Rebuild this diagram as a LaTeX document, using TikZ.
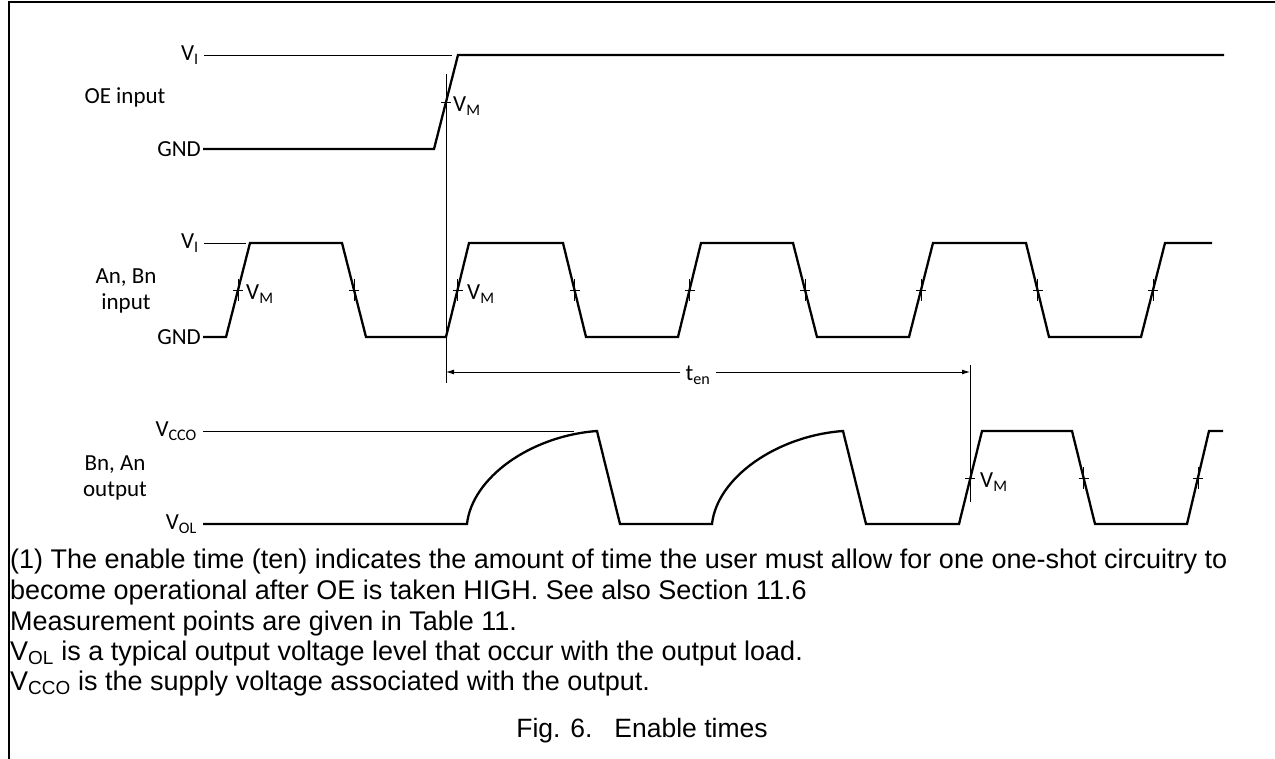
\documentclass[tikz,border=0pt]{standalone}
\usepackage{fontspec}
\setmainfont{Liberation Sans}
\newfontfamily\calfont{Carlito}
\usetikzlibrary{arrows.meta}
\begin{document}
\begin{tikzpicture}[x=1pt,y=-1pt,
  wave/.style={line width=2.3pt, line join=miter},
  thinline/.style={line width=0.9pt},
  frameline/.style={line width=2.6pt},
  lbl/.style={font=\calfont\fontsize{23}{26}\selectfont, inner sep=0pt},
  note/.style={font=\fontsize{27}{30}\selectfont, inner sep=0pt, anchor=base west},
  dimarrow/.style={thinline, -{Latex[length=8pt,width=5pt]}},
  vmtick/.pic={\draw[thinline] (0,-11)--(0,11) (-5,0)--(5,0);}
]
\useasboundingbox (0,0) rectangle (1275,759);
% frame
\draw[frameline] (9,759) -- (9,2) -- (1275,2);

% ---------- OE input ----------
\node[lbl, anchor=east] (vi1) at (199,55) {V\textsubscript{I}};
\node[lbl] (oe) at (125,97) {OE input};
\node[lbl, anchor=east] (gnd1) at (201,149) {GND};
\draw[thinline] (204,55) -- (452,55);
\draw[wave] (203,149) -- (434,149) -- (458,55) -- (1224,55);
\draw[thinline] (446,74) -- (446,383);
\draw[thinline] (441,102) -- (451,102);
\node[lbl, anchor=west] (vm1) at (453,106) {V\textsubscript{M}};

% ---------- An, Bn input ----------
\node[lbl, anchor=east] (vi2) at (199,243) {V\textsubscript{I}};
\node[lbl, align=center] (ab) at (126,291) {An, Bn\\input};
\node[lbl, anchor=east] (gnd2) at (201,337) {GND};
\draw[thinline] (204,243) -- (246,243);
\draw[wave] (203,337) -- (226,337) -- (250,243) -- (342,243) -- (366,337)
  -- (446,337) -- (469,243) -- (563,243) -- (586,337)
  -- (678,337) -- (701,243) -- (793,243) -- (817,337)
  -- (909,337) -- (933,243) -- (1026,243) -- (1049,337)
  -- (1141,337) -- (1165,243) -- (1212,243);
\foreach \x in {238,354,574.5,689.5,805,921,1037.5,1153} \pic at (\x,290) {vmtick};
\draw[thinline] (452.5,290) -- (462.5,290) (457.5,279) -- (457.5,301);
\node[lbl, anchor=west] (vm2) at (246,294) {V\textsubscript{M}};
\node[lbl, anchor=west] (vm3) at (467,294) {V\textsubscript{M}};

% ---------- t_en ----------
\coordinate (tenL) at (446,372);
\coordinate (tenR) at (970,372);
\node[lbl, inner sep=5pt] (ten) at (698,375) {t\textsubscript{en}};
\draw[dimarrow] (ten.west |- tenL) -- (tenL);
\draw[dimarrow] (ten.east |- tenR) -- (tenR);
\draw[thinline] (970,365) -- (970,502);

% ---------- Bn, An output ----------
\node[lbl, anchor=east] (vcco) at (197,431) {V\textsubscript{CCO}};
\node[lbl, align=center] (ba) at (115,478) {Bn, An\\output};
\node[lbl, anchor=east] (vol) at (197,524) {V\textsubscript{OL}};
\draw[thinline] (203,431) -- (574,431);
\draw[wave] (203,524) -- (467,524) .. controls (472,478) and (530,436) .. (597,431)
  -- (620,524) -- (712,524) .. controls (717,478) and (776,436) .. (843,431)
  -- (866,524) -- (959,524) -- (982,431) -- (1072,431) -- (1095,524)
  -- (1187,524) -- (1209,431) -- (1223,431);
\foreach \x in {1083.5,1198} \pic at (\x,478) {vmtick};
\draw[thinline] (965,478) -- (975,478);
\node[lbl, anchor=west] (vm4) at (980,482) {V\textsubscript{M}};

% ---------- notes ----------
\node[note] (n1) at (10,568) {(1) The enable time (ten) indicates the amount of time the user must allow for one one-shot circuitry to};
\node[note] (n2) at (10,599) {become operational after OE is taken HIGH. See also Section 11.6};
\node[note] (n3) at (10,630) {Measurement points are given in Table 11.};
\node[note] (n4) at (10,660) {V\textsubscript{OL} is a typical output voltage level that occur with the output load.};
\node[note] (n5) at (10,690) {V\textsubscript{CCO} is the supply voltage associated with the output.};
\node[note, anchor=base, font=\fontsize{26.5}{30}\selectfont] (cap) at (642,737) {Fig. 6.\ \ \ Enable times};
\end{tikzpicture}
\end{document}
